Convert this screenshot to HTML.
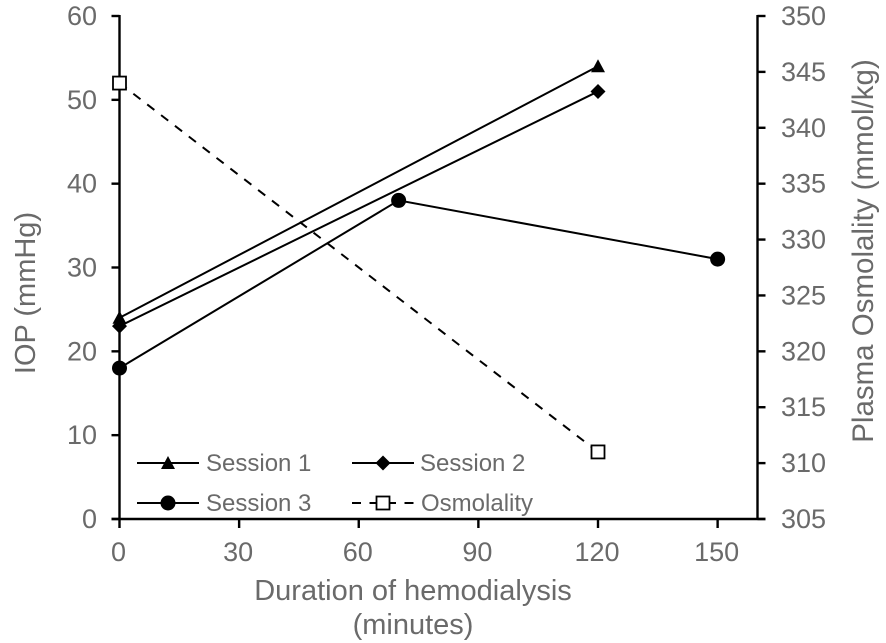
<!DOCTYPE html>
<html>
<head>
<meta charset="utf-8">
<title>IOP and plasma osmolality during hemodialysis</title>
<style>
html,body{margin:0;padding:0;background:#fff;width:886px;height:643px;overflow:hidden}
svg{display:block}
text{font-family:"Liberation Sans",Arial,sans-serif;fill:#6a6a6a}
</style>
</head>
<body>
<svg id="chart" width="886" height="643" viewBox="0 0 886 643"></svg>
<script>
const xTicks = [0, 30, 60, 90, 120, 150];
const yLeftTicks = [0, 10, 20, 30, 40, 50, 60];
const yRightTicks = [305, 310, 315, 320, 325, 330, 335, 340, 345, 350];
const xMax = 160;
const session1X = [0, 120];
const session1Y = [24, 54];
const session2X = [0, 120];
const session2Y = [23, 51];
const session3X = [0, 70, 150];
const session3Y = [18, 38, 31];
const osmolalityX = [0, 120];
const osmolalityY = [344, 311];

const NS = 'http://www.w3.org/2000/svg';
const svg = document.getElementById('chart');
const L = 119.5, R = 757.5, T = 16, B = 519;
const sx = v => L + (v / xMax) * (R - L);
const syL = v => B - (v / 60) * (B - T);
const syR = v => B - ((v - 305) / 45) * (B - T);

function make(tag, attrs, name, parent) {
  const el = document.createElementNS(NS, tag);
  for (const k in attrs) el.setAttribute(k, attrs[k]);
  
  
  (parent || svg).appendChild(el);
  return el;
}
function label(str, x, y, size, anchor, name, rot) {
  const a = {x: x, y: y, 'font-size': size, 'text-anchor': anchor};
  if (rot) a.transform = 'rotate(' + rot + ' ' + x + ' ' + y + ')';
  const t = make('text', a, name);
  t.textContent = str;
  return t;
}
function axisLine(x1, y1, x2, y2, name) {
  make('line', {x1, y1, x2, y2, stroke: '#000', 'stroke-width': 2.4}, name);
}

// axes
axisLine(L, T - 1, L, B + 1, 'left-axis-line');
axisLine(R, T - 1, R, B + 1, 'right-axis-line');
axisLine(L - 8, B, R + 8, B, 'x-axis-line');

xTicks.forEach(v => {
  axisLine(sx(v), B, sx(v), B + 9, 'x-tick-' + v);
  label(String(v), sx(v) - 1, 561, 27, 'middle', 'x-tick-label-' + v);
});
yLeftTicks.forEach(v => {
  axisLine(L - 8, syL(v), L, syL(v), 'left-tick-' + v);
  label(String(v), 97, syL(v) + 9, 27, 'end', 'left-tick-label-' + v);
});
yRightTicks.forEach(v => {
  axisLine(R, syR(v), R + 8, syR(v), 'right-tick-' + v);
  label(String(v), 781, syR(v) + 9, 27, 'start', 'right-tick-label-' + v);
});

// titles
label('Duration of hemodialysis', 413, 600, 29, 'middle', 'x-axis-title-line-1');
label('(minutes)', 413, 634, 29, 'middle', 'x-axis-title-line-2');
label('IOP (mmHg)', 35, 293, 29, 'middle', 'left-axis-title', -90);
label('Plasma Osmolality (mmol/kg)', 873, 251, 29.5, 'middle', 'right-axis-title', -90);

// markers
function triangle(x, y, name) {
  make('polygon', {points: x + ',' + (y - 7) + ' ' + (x + 7) + ',' + (y + 6) + ' ' + (x - 7) + ',' + (y + 6), fill: '#000'}, name);
}
function diamond(x, y, name) {
  make('polygon', {points: x + ',' + (y - 7.5) + ' ' + (x + 7.5) + ',' + y + ' ' + x + ',' + (y + 7.5) + ' ' + (x - 7.5) + ',' + y, fill: '#000'}, name);
}
function circle(x, y, name) {
  make('circle', {cx: x, cy: y, r: 7.5, fill: '#000'}, name);
}
function square(x, y, name) {
  make('rect', {x: x - 6.5, y: y - 6.5, width: 13, height: 13, fill: '#fff', stroke: '#000', 'stroke-width': 1.8}, name);
}

function series(xs, ys, scale, name, marker, dash) {
  const pts = xs.map((v, i) => sx(v) + ',' + scale(ys[i])).join(' ');
  const a = {points: pts, fill: 'none', stroke: '#000', 'stroke-width': 2};
  if (dash) a['stroke-dasharray'] = dash;
  make('polyline', a, name + '-line');
  xs.forEach((v, i) => marker(sx(v), scale(ys[i]), name + '-point-' + i));
}
series(osmolalityX, osmolalityY, syR, 'osmolality', square, '9 8.5');
series(session1X, session1Y, syL, 'session-1', triangle);
series(session2X, session2Y, syL, 'session-2', diamond);
series(session3X, session3Y, syL, 'session-3', circle);

// legend
function legendEntry(x, y, text, marker, dash, name, labelGap) {
  const a = {x1: x, y1: y, x2: x + 62, y2: y, stroke: '#000', 'stroke-width': 2};
  if (dash) a['stroke-dasharray'] = dash;
  make('line', a, name + '-swatch-line');
  marker(x + 31, y, name + '-swatch-marker');
  label(text, x + labelGap, y + 8, 24, 'start', name + '-label');
}
legendEntry(137, 463, 'Session 1', triangle, null, 'legend-session-1', 69);
legendEntry(352, 463, 'Session 2', diamond, null, 'legend-session-2', 68);
legendEntry(137, 503, 'Session 3', circle, null, 'legend-session-3', 69);
legendEntry(352, 503, 'Osmolality', square, '9 8.5', 'legend-osmolality', 69);
</script>
</body>
</html>
